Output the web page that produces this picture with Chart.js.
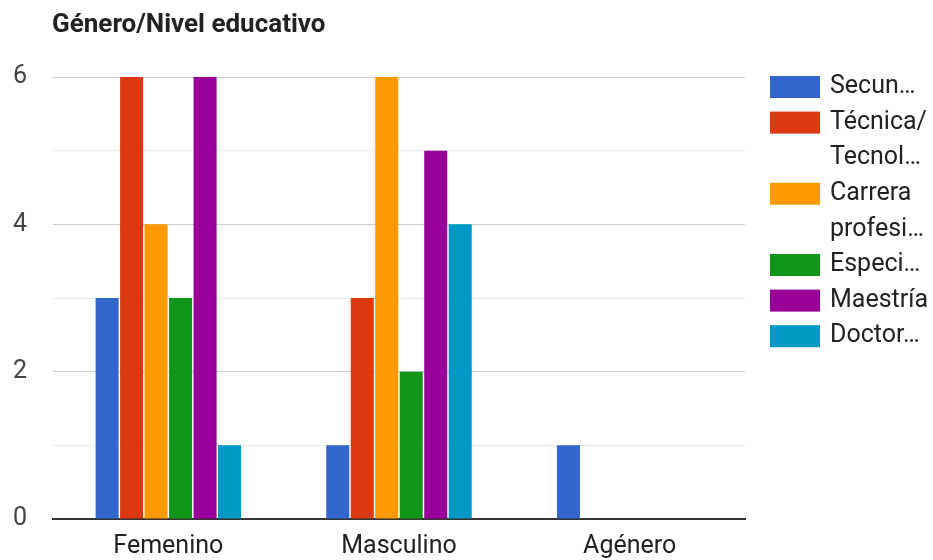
<!DOCTYPE html>
<html>
<head>
<meta charset="utf-8">
<script src="https://cdn.jsdelivr.net/npm/chart.js@4/dist/chart.umd.min.js"></script>
<style>
  html, body { margin: 0; padding: 0; background: #fff; }
  #wrap { width: 933px; height: 560px; position: relative; }
</style>
</head>
<body>
<div id="wrap"><canvas id="c" width="933" height="560"></canvas></div>
<script>
const chartTitle = 'Género/Nivel educativo';
const categories = ['Femenino', 'Masculino', 'Agénero'];
const seriesNames = ['Secundaria', 'Técnica/Tecnológica', 'Carrera profesional', 'Especialización', 'Maestría', 'Doctorado'];
const legendLines = [['Secun…'], ['Técnica/', 'Tecnol…'], ['Carrera', 'profesi…'], ['Especi…'], ['Maestría'], ['Doctor…']];
const seriesColors = ['#3366cc', '#dc3912', '#ff9900', '#109618', '#990099', '#0099c6'];
const secundaria = [3, 1, 1];
const tecnica = [6, 3, 0];
const carrera = [4, 6, 0];
const especializacion = [3, 2, 0];
const maestria = [6, 5, 0];
const doctorado = [1, 4, 0];
const seriesValues = [secundaria, tecnica, carrera, especializacion, maestria, doctorado];
const yTickLabels = [0, 2, 4, 6];

const FONT = 'Roboto, Arial, sans-serif';

// Title and side legend painted onto the canvas
const sideDecor = {
  id: 'sideDecor',
  afterDraw(chart) {
    const ctx = chart.ctx;
    ctx.save();
    ctx.fillStyle = '#222';
    ctx.font = 'bold 26px ' + FONT;
    ctx.textBaseline = 'middle';
    ctx.textAlign = 'left';
    ctx.fillText(chartTitle, 52, 25);

    const lineH = 35.6;
    let y = 87;
    ctx.font = '25px ' + FONT;
    chart.data.datasets.forEach((ds, i) => {
      ctx.fillStyle = ds.backgroundColor;
      ctx.fillRect(770, y - 11, 50, 22);
      ctx.fillStyle = '#222';
      legendLines[i].forEach((ln, k) => {
        ctx.fillText(ln, 830, y + k * lineH);
      });
      y += legendLines[i].length * lineH;
    });
    ctx.restore();
  }
};

new Chart(document.getElementById('c'), {
  type: 'bar',
  data: {
    labels: categories,
    datasets: seriesNames.map((name, i) => ({
      label: name,
      data: seriesValues[i],
      backgroundColor: seriesColors[i],
      borderWidth: 0,
      barPercentage: 0.94,
      categoryPercentage: 0.637
    }))
  },
  options: {
    responsive: false,
    animation: false,
    devicePixelRatio: 1,
    layout: { padding: { left: 0, right: 188, top: 77, bottom: 0 } },
    plugins: {
      legend: { display: false },
      title: { display: false },
      tooltip: { enabled: false }
    },
    scales: {
      x: {
        afterFit(scale) { scale.height = 40; },
        grid: { display: false, drawTicks: false },
        border: { display: true, color: '#333', width: 2 },
        ticks: { color: '#222', font: { family: FONT, size: 25 }, padding: 13 }
      },
      y: {
        min: 0,
        max: 6,
        afterFit(scale) { scale.width = 53; },
        border: { display: false },
        grid: {
          drawTicks: false,
          color: (c) => (c.tick && c.tick.value % 2 === 0) ? '#cccccc' : '#ebebeb',
          lineWidth: 1
        },
        ticks: {
          stepSize: 1,
          padding: 26,
          color: '#444',
          font: { family: FONT, size: 25 },
          callback: (v) => yTickLabels.includes(v) ? String(v) : ''
        }
      }
    }
  },
  plugins: [sideDecor]
});
</script>
</body>
</html>
